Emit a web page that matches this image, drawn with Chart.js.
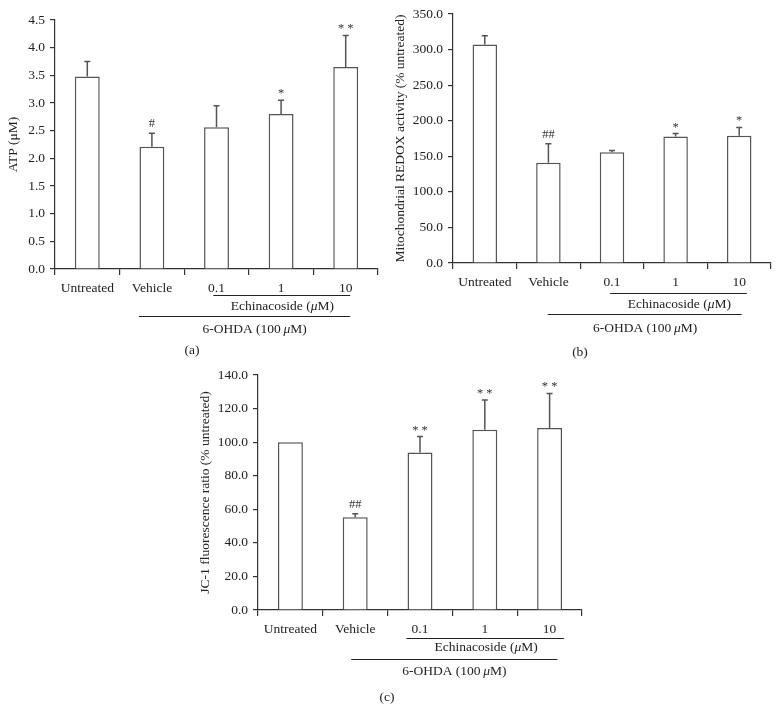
<!DOCTYPE html>
<html>
<head>
<meta charset="utf-8">
<script src="https://cdn.jsdelivr.net/npm/chart.js@4"></script>
<style>
body { margin: 0; background: #fff; }
#wrap { position: relative; width: 780px; height: 711px; }
canvas { position: absolute; }
.tag { position: absolute; font: 13.5px "Liberation Serif"; color: #222; transform: translateX(-50%); white-space: nowrap; }
</style>
</head>
<body>
<div id="wrap">
  <canvas id="chartA" width="390" height="340" style="left:0;top:0"></canvas>
  <canvas id="chartB" width="390" height="340" style="left:390px;top:0"></canvas>
  <canvas id="chartC" width="420" height="371" style="left:190px;top:340px"></canvas>
  <div class="tag" style="left:192px;top:342px">(a)</div>
  <div class="tag" style="left:580px;top:344px">(b)</div>
  <div class="tag" style="left:387px;top:689px">(c)</div>
</div>
<script>
// data
var groups = ['Untreated', 'Vehicle', '0.1', '1', '10'];

var atpValues = [3.48, 2.21, 2.56, 2.80, 3.65];
var atpErrors = [0.27, 0.245, 0.39, 0.25, 0.57];
var atpMarks = ['', '#', '', '*', '**'];
var atpTicks = [0, 0.5, 1.0, 1.5, 2.0, 2.5, 3.0, 3.5, 4.0, 4.5];

var redoxValues = [307, 140.8, 155.8, 177.8, 178.8];
var redoxErrors = [12.6, 26.7, 2.4, 4.2, 11.7];
var redoxMarks = ['', '##', '', '*', '*'];
var redoxTicks = [0, 50, 100, 150, 200, 250, 300, 350];

var jc1Values = [100, 55.2, 93.9, 107.4, 108.4];
var jc1Errors = [0, 2.2, 9.4, 17.7, 20.6];
var jc1Marks = ['', '##', '**', '**', '**'];
var jc1Ticks = [0, 20, 40, 60, 80, 100, 120, 140];

var SERIF = '"Liberation Serif", "DejaVu Serif", serif';
var INK = '#222';
var FS = 13.5;

// draws text pieces (some italic) centred on x
function drawParts(ctx, parts, x, y) {
  var total = 0;
  parts.forEach(function (p) {
    ctx.font = (p[1] ? 'italic ' : '') + FS + 'px ' + SERIF;
    p.w = ctx.measureText(p[0]).width;
    total += p.w;
  });
  var cx = x - total / 2;
  parts.forEach(function (p) {
    ctx.font = (p[1] ? 'italic ' : '') + FS + 'px ' + SERIF;
    ctx.fillText(p[0], cx, y);
    cx += p.w;
  });
}

var extras = {
  id: 'extras',
  afterDatasetsDraw: function (chart, args, opts) {
    var ctx = chart.ctx;
    var xs = chart.scales.x, ys = chart.scales.y;
    var vals = chart.data.datasets[0].data;
    var p0 = xs.getPixelForValue(0);
    var cw = xs.getPixelForValue(1) - p0;
    ctx.save();
    // error bars (upper whisker only)
    ctx.strokeStyle = '#555';
    ctx.lineWidth = 1.5;
    opts.errors.forEach(function (e, i) {
      var cx = xs.getPixelForValue(i);
      var yb = ys.getPixelForValue(vals[i]);
      var yt = ys.getPixelForValue(vals[i] + e);
      if (e > 0) {
        ctx.beginPath();
        ctx.moveTo(cx, yb);
        ctx.lineTo(cx, yt);
        ctx.moveTo(cx - 3, yt);
        ctx.lineTo(cx + 3, yt);
        ctx.stroke();
      }
      var m = opts.marks[i];
      if (m) {
        ctx.fillStyle = '#333';
        ctx.font = '12.5px ' + SERIF;
        ctx.textAlign = 'center';
        ctx.textBaseline = 'alphabetic';
        var txt = m.split('').join(m[0] === '*' ? ' ' : '');
        ctx.fillText(txt, cx, yt - (m[0] === '*' ? 3 : 6));
      }
    });
    // treatment brackets under the axis
    var bottom = chart.chartArea.bottom;
    ctx.strokeStyle = INK;
    ctx.fillStyle = INK;
    ctx.lineWidth = 1;
    ctx.textAlign = 'left';
    ctx.textBaseline = 'middle';
    opts.brackets.forEach(function (b) {
      var y = Math.round(bottom + b.lineY) + 0.5;
      ctx.beginPath();
      ctx.moveTo(p0 + b.from * cw, y);
      ctx.lineTo(p0 + b.to * cw, y);
      ctx.stroke();
      drawParts(ctx, b.text, p0 + b.textAt * cw, bottom + b.textY);
    });
    ctx.restore();
  }
};

function makeChart(id, values, errors, marks, ticks, title, lay) {
  return new Chart(document.getElementById(id), {
    type: 'bar',
    data: {
      labels: groups,
      datasets: [{
        data: values,
        backgroundColor: '#fff',
        borderColor: '#555',
        borderWidth: 1.5,
        categoryPercentage: 1,
        barPercentage: 0.385
      }]
    },
    options: {
      responsive: false,
      animation: false,
      layout: { padding: { top: lay.top, right: lay.right, left: 0, bottom: 0 } },
      plugins: {
        legend: { display: false },
        tooltip: { enabled: false },
        extras: { errors: errors, marks: marks, brackets: lay.brackets }
      },
      scales: {
        x: {
          grid: { display: true, drawOnChartArea: false, offset: true, tickLength: 6, color: '#333', lineWidth: 1.2 },
          border: { color: '#333', width: 1.2 },
          ticks: { color: INK, font: { family: SERIF, size: FS }, padding: 5 },
          afterFit: function (s) { s.height = lay.xHeight; }
        },
        y: {
          min: ticks[0],
          max: ticks[ticks.length - 1],
          afterBuildTicks: function (s) { s.ticks = ticks.map(function (v) { return { value: v }; }); },
          grid: { display: true, drawOnChartArea: false, tickLength: 5, color: '#333', lineWidth: 1.2 },
          border: { color: '#333', width: 1.2 },
          ticks: {
            color: INK, font: { family: SERIF, size: FS }, padding: 5,
            callback: function (v) { return Number(v).toFixed(1); }
          },
          title: { display: true, text: title, color: INK, font: { family: SERIF, size: FS }, padding: { top: lay.titlePad } },
          afterFit: function (s) { s.width = lay.yWidth; }
        }
      }
    },
    plugins: [extras]
  });
}

var echin = [['Echinacoside ('], ['\u03bc', true], ['M)']];
var ohda = [['6-OHDA (100\u2009'], ['\u03bc', true], ['M)']];

makeChart('chartA', atpValues, atpErrors, atpMarks, atpTicks, 'ATP (\u03bcM)', {
  top: 20, right: 12, xHeight: 71, yWidth: 55, titlePad: 5,
  brackets: [
    { from: 1.95, to: 4.07, textAt: 3.02, lineY: 26, textY: 37, text: echin },
    { from: 0.80, to: 4.07, textAt: 2.59, lineY: 47, textY: 60, text: ohda }
  ]
});

makeChart('chartB', redoxValues, redoxErrors, redoxMarks, redoxTicks, 'Mitochondrial REDOX activity (% untreated)', {
  top: 14, right: 9, xHeight: 77, yWidth: 63, titlePad: 2,
  brackets: [
    { from: 1.97, to: 4.12, textAt: 3.06, lineY: 30, textY: 41, text: echin },
    { from: 0.99, to: 4.04, textAt: 2.52, lineY: 51, textY: 65, text: ohda }
  ]
});

makeChart('chartC', jc1Values, jc1Errors, jc1Marks, jc1Ticks, 'JC-1 fluorescence ratio (% untreated)', {
  top: 35, right: 28, xHeight: 101, yWidth: 68, titlePad: 7,
  brackets: [
    { from: 1.79, to: 4.22, textAt: 3.02, lineY: 28, textY: 37, text: echin },
    { from: 0.94, to: 4.12, textAt: 2.53, lineY: 49, textY: 61, text: ohda }
  ]
});
</script>
</body>
</html>
